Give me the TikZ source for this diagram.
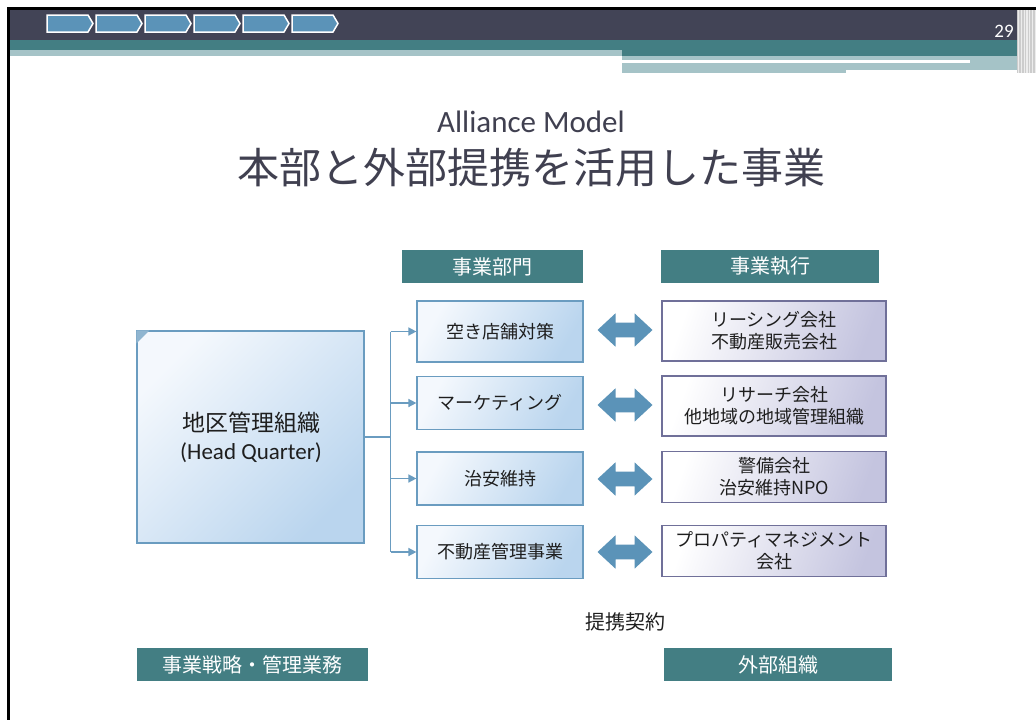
\documentclass[tikz,border=0pt]{standalone}
\usepackage{fontspec}
\setmainfont{Carlito}
\newfontfamily\jp{Noto Sans CJK JP}
\usetikzlibrary{arrows.meta}
\definecolor{darkbar}{HTML}{424456}
\definecolor{tealc}{HTML}{437E83}
\definecolor{lightband}{HTML}{A5C3C7}
\definecolor{chev}{HTML}{5B93B8}
\definecolor{titlec}{HTML}{404050}
\definecolor{hqA}{HTML}{F4F8FD}
\definecolor{hqB}{HTML}{BAD5EE}
\definecolor{blueb}{HTML}{6A9CC0}
\definecolor{lavB}{HTML}{C4C4DF}
\definecolor{lavb}{HTML}{707099}
\definecolor{dblarrow}{HTML}{5B93B8}
\definecolor{txt}{HTML}{1E1E1E}
\begin{document}
\begin{tikzpicture}[x=1pt,y=-1pt,
  hdr/.style={fill=tealc, text=white, font=\jp\fontsize{20}{22}\selectfont, inner sep=0, minimum height=33},
  hqbox/.style={draw=blueb, line width=1.2, top color=hqA, bottom color=hqB, shading angle=45, inner sep=0, align=center, text=txt},
  leftbox/.style={draw=blueb, line width=1.2, top color=hqA, bottom color=hqB, shading angle=60, minimum width=166, inner sep=0, text=txt, font=\jp\fontsize{18}{22}\selectfont},
  rightbox/.style={draw=lavb, line width=1.2, top color=white, bottom color=lavB, shading angle=70, minimum width=224, inner sep=0, align=center, text=txt, font=\jp\fontsize{18}{22}\selectfont},
  conn/.style={draw=blueb, line width=1.5},
  tip/.style={-{Triangle[length=8pt,width=8pt]}},
  chevron/.style={fill=chev, draw=white, line width=1.5},
  dbl/.style={fill=dblarrow}
]
\useasboundingbox (0,0) rectangle (1036,720);
\fill[white] (0,0) rectangle (1036,720);
% ---- header band
\fill[black] (7,7) rectangle (1036,10);
\fill[darkbar] (9,10) rectangle (1036,40);
\fill[black] (7,7) rectangle (9.5,720);
\fill[tealc] (9.5,40) rectangle (1036,50);
\fill[lightband] (9.5,50) rectangle (622,56);
\fill[tealc] (622,50) rectangle (1036,56);
\fill[lightband] (622,56) rectangle (1020,73);
\fill[white] (622,60) rectangle (970,62.5);
\fill[white] (846,70) rectangle (1028,73);
\fill[gray!40] (1017,10) rectangle (1036,73);
\foreach \i in {0,...,6} \fill[white!85!gray] (1018+\i*2.8,10) rectangle ++(1.2,63);
% chevrons
\foreach \i in {0,...,5} {
  \draw[chevron] (47+\i*49,15) -- ++(41,0) -- ++(5,8.5) -- ++(-5,8.5) -- ++(-41,0) -- cycle;
}
\node[text=white, font=\fontsize{19}{21}\selectfont, inner sep=0] (pgno) at (1004,31) {29};
% ---- titles
\node[text=titlec, font=\fontsize{31}{34}\selectfont, inner sep=0] (title1) at (531,122) {Alliance Model};
\node[text=titlec, font=\jp\fontsize{42}{46}\selectfont, inner sep=0] (title2) at (531,168) {本部と外部提携を活用した事業};
% ---- headers
\node[hdr, minimum width=181] (hdrA) at (492.5,266.5) {事業部門};
\node[hdr, minimum width=218] (hdrB) at (770,266.5) {事業執行};
\node[hdr, minimum width=231] (hdrC) at (252.5,664.5) {事業戦略・管理業務};
\node[hdr, minimum width=228] (hdrD) at (778,664.5) {外部組織};
\node[text=txt, font=\jp\fontsize{20}{22}\selectfont, inner sep=0] (contract) at (625,622) {提携契約};
% ---- HQ
\node[hqbox, minimum width=227, minimum height=212] (hq) at (250.5,437) {};
\fill[blueb!75] (hq.north west) -- ++(13,0) -- ++(-13,13) -- cycle;
\node[text=txt, font=\jp\fontsize{23}{26}\selectfont, inner sep=0] (hqt1) at (251,423) {地区管理組織};
\node[text=txt, font=\fontsize{23}{26}\selectfont, inner sep=0] (hqt2) at (251,453) {(Head Quarter)};
% ---- left boxes
\node[leftbox, minimum height=61] (l1) at (500,331.5) {空き店舗対策};
\node[leftbox, minimum height=53] (l2) at (500,403) {マーケティング};
\node[leftbox, minimum height=53] (l3) at (500,478.5) {治安維持};
\node[leftbox, minimum height=53] (l4) at (500,552) {不動産管理事業};
% ---- right boxes
\node[rightbox, minimum height=60] (r1) at (774,331) {リーシング会社\\不動産販売会社};
\node[rightbox, minimum height=60] (r2) at (774,406) {リサーチ会社\\他地域の地域管理組織};
\node[rightbox, minimum height=51] (r3) at (774,477) {警備会社\\治安維持NPO};
\node[rightbox, minimum height=51] (r4) at (774,551) {プロパティマネジメント\\会社};
% ---- connectors
\coordinate (j) at (390.5,437);
\draw[conn] (hq.east) -- (j);
\draw[conn] (j |- l1.west) -- (j |- l4.west);
\foreach \b in {l1,l2,l3,l4} \draw[conn,tip] (j |- \b.west) -- (\b.west);
% ---- double arrows
\foreach \c/\n in {330/1,405/2,479/3,552/4} {
  \begin{scope}[shift={(625,\c)}]
    \coordinate (da\n) at (0,0);
    \fill[dbl] (-27.5,0) -- (-9.5,-16.7) -- (-9.5,-7.3) -- (9.5,-7.3) -- (9.5,-16.7) -- (27.5,0) -- (9.5,16.7) -- (9.5,7.3) -- (-9.5,7.3) -- (-9.5,16.7) -- cycle;
  \end{scope}
}
\end{tikzpicture}
\end{document}
